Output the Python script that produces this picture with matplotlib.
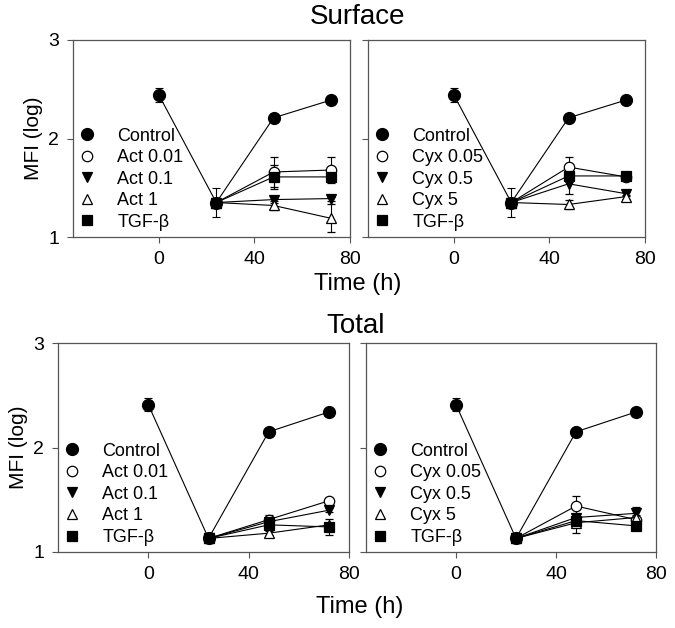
import numpy as np
import matplotlib
matplotlib.use("Agg")
import matplotlib.pyplot as plt
from matplotlib.lines import Line2D

plt.rcParams['font.family'] = ['Liberation Sans', 'DejaVu Sans']

# time points
t_control = [0, 24, 48, 72]
t_treat = [24, 48, 72]

# ---- Surface ----
surf_control = [2.44, 1.35, 2.21, 2.39]
surf_control_err = [0.07, 0.15, 0.0, 0.0]

surf_act_labels = ["Act 0.01", "Act 0.1", "Act 1", "TGF-\u03b2"]
surf_act = [[1.35, 1.66, 1.68], [1.35, 1.38, 1.39], [1.35, 1.32, 1.19], [1.35, 1.61, 1.61]]
surf_act_err = [[0.0, 0.15, 0.13], [0.0, 0.03, 0.02], [0.0, 0.05, 0.14], [0.0, 0.12, 0.05]]

surf_cyx_labels = ["Cyx 0.05", "Cyx 0.5", "Cyx 5", "TGF-\u03b2"]
surf_cyx = [[1.35, 1.71, 1.61], [1.35, 1.54, 1.44], [1.35, 1.33, 1.41], [1.35, 1.62, 1.62]]
surf_cyx_err = [[0.0, 0.10, 0.02], [0.0, 0.10, 0.02], [0.0, 0.05, 0.02], [0.0, 0.05, 0.02]]

# ---- Total ----
tot_control = [2.41, 1.13, 2.15, 2.34]
tot_control_err = [0.065, 0.02, 0.0, 0.0]

tot_act = [[1.13, 1.31, 1.49], [1.13, 1.29, 1.40], [1.13, 1.18, 1.26], [1.13, 1.26, 1.24]]
tot_act_err = [[0.0, 0.04, 0.02], [0.0, 0.03, 0.02], [0.0, 0.02, 0.02], [0.0, 0.03, 0.08]]

tot_cyx = [[1.13, 1.44, 1.31], [1.13, 1.33, 1.37], [1.13, 1.28, 1.33], [1.13, 1.30, 1.25]]
tot_cyx_err = [[0.0, 0.10, 0.02], [0.0, 0.03, 0.06], [0.0, 0.02, 0.02], [0.0, 0.12, 0.04]]

markers = ['o', 'v', '^', 's']
faces = ['white', 'black', 'white', 'black']

W, H = 675, 628
fig = plt.figure(figsize=(W / 100, H / 100), dpi=100)


def px_axes(x0, y0, x1, y1):
    return fig.add_axes([x0 / W, 1 - y1 / H, (x1 - x0) / W, (y1 - y0) / H])


def draw_panel(ax, control, control_err, series, series_err, labels, show_ylabels):
    for vals, errs, m, fc in zip(series, series_err, markers, faces):
        ax.errorbar(t_treat, vals, yerr=errs, color='black', lw=0.8,
                    marker=m, mfc=fc, mec='black', ms=7.5, mew=0.9,
                    elinewidth=0.8, capsize=3, capthick=0.8)
    ax.errorbar(t_control, control, yerr=control_err, color='black', lw=0.8,
                marker='o', mfc='black', mec='black', ms=8.5,
                elinewidth=0.8, capsize=3, capthick=0.8, zorder=5)
    ax.set_xlim(-36, 80)
    ax.set_ylim(1, 3)
    ax.set_xticks([0, 40, 80])
    ax.set_yticks([1, 2, 3])
    ax.tick_params(direction='out', length=4, width=0.8, labelsize=14,
                   color='#555555', pad=6)
    if not show_ylabels:
        ax.set_yticklabels([])
    for s in ax.spines.values():
        s.set_linewidth(0.9)
        s.set_color('#555555')

    handles = [Line2D([], [], marker='o', mfc='black', mec='black', ls='none', ms=8.5)]
    for m, fc in zip(markers, faces):
        handles.append(Line2D([], [], marker=m, mfc=fc, mec='black', ls='none', ms=7.5, mew=0.9))
    ax.legend(handles, ["Control"] + labels, loc='lower left', frameon=False,
              fontsize=13, handlelength=0.8, handletextpad=1.25, borderpad=0.1,
              labelspacing=0.25, borderaxespad=0.3, bbox_to_anchor=(0.0, -0.005))


ax1 = px_axes(73, 40, 350, 237)
ax2 = px_axes(368, 40, 645, 237)
ax3 = px_axes(58, 343, 349, 552)
ax4 = px_axes(366, 343, 656, 552)

draw_panel(ax1, surf_control, surf_control_err, surf_act, surf_act_err, surf_act_labels, True)
draw_panel(ax2, surf_control, surf_control_err, surf_cyx, surf_cyx_err, surf_cyx_labels, False)
draw_panel(ax3, tot_control, tot_control_err, tot_act, tot_act_err, surf_act_labels, True)
draw_panel(ax4, tot_control, tot_control_err, tot_cyx, tot_cyx_err, surf_cyx_labels, False)

ax1.set_ylabel("MFI (log)", fontsize=15, labelpad=4)
ax3.set_ylabel("MFI (log)", fontsize=15, labelpad=4)

fig.text(358 / W, 1 - 17 / H, "Surface", ha='center', va='center', fontsize=20)
fig.text(356 / W, 1 - 326 / H, "Total", ha='center', va='center', fontsize=20)
fig.text(358 / W, 1 - 284 / H, "Time (h)", ha='center', va='center', fontsize=17)
fig.text(360 / W, 1 - 607 / H, "Time (h)", ha='center', va='center', fontsize=17)

fig.savefig("out.png", dpi=100)
